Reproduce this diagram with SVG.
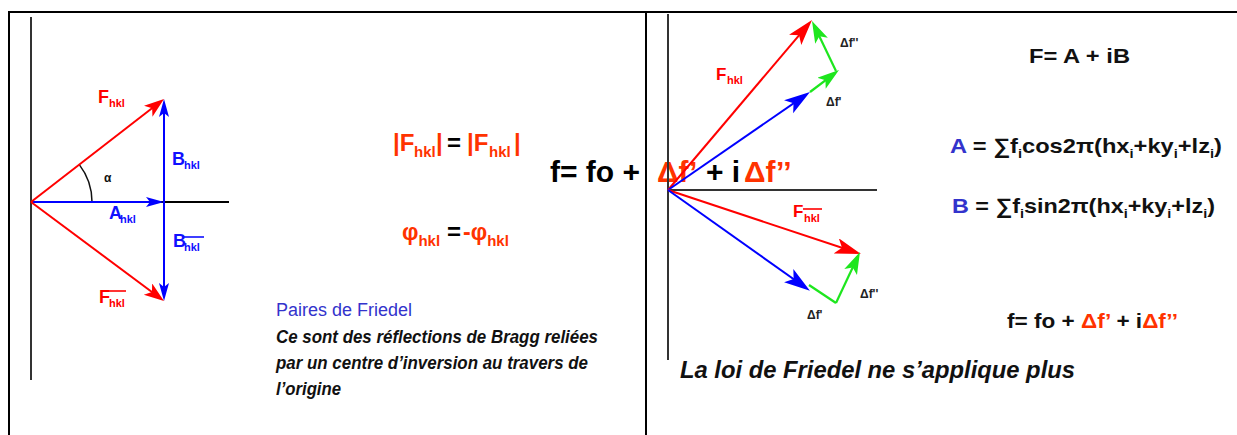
<svg xmlns="http://www.w3.org/2000/svg" width="1237" height="435" viewBox="0 0 1237 435">
<style>
text{font-family:"Liberation Sans",Arial,sans-serif}
.bd{font-weight:bold}
.bi{font-weight:bold;font-style:italic}
.ax{stroke:#333;stroke-width:2;fill:none}
.fr{stroke:#000;stroke-width:2;fill:none}
.r{stroke:#f00;stroke-width:2;fill:none}
.b{stroke:#00f;stroke-width:2;fill:none}
.g{stroke:#1ee61e;stroke-width:2.2;fill:none}
.red{fill:#f00}
.ora{fill:#ff3300}
.blu{fill:#1010ff}
.ind{fill:#3333cc}
.blk{fill:#111}
</style>
<defs>
<marker id="rL" markerUnits="userSpaceOnUse" markerWidth="21" markerHeight="15" refX="15" refY="7" orient="auto"><path d="M0,0 L20,7 L0,14 L5,7 z" fill="#f00"/></marker>
<marker id="bL" markerUnits="userSpaceOnUse" markerWidth="19" markerHeight="11" refX="13" refY="5" orient="auto"><path d="M0,0 L18,5 L0,10 L4,5 z" fill="#00f"/></marker>
<marker id="rR" markerUnits="userSpaceOnUse" markerWidth="27" markerHeight="17" refX="21" refY="8" orient="auto"><path d="M0,0 L26,8 L0,16 L6,8 z" fill="#f00"/></marker>
<marker id="bR" markerUnits="userSpaceOnUse" markerWidth="27" markerHeight="17" refX="21" refY="8" orient="auto"><path d="M0,0 L26,8 L0,16 L6,8 z" fill="#00f"/></marker>
<marker id="gR" markerUnits="userSpaceOnUse" markerWidth="23" markerHeight="15" refX="17" refY="7" orient="auto"><path d="M0,0 L22,7 L0,14 L5,7 z" fill="#1ee61e"/></marker>
</defs>
<rect width="1237" height="435" fill="#fff"/>

<!-- big formula (drawn under lines) -->
<g id="formula-main" class="bd" font-size="30">
<text x="550" y="182" fill="#000">f= fo +</text>
<text x="657" y="182" class="ora">Δf’</text>
<text x="706" y="182" fill="#000">+ i</text>
<text x="744" y="182" class="ora">Δf’’</text>
</g>

<!-- frame -->
<g id="frame">
<line class="fr" x1="9" y1="12" x2="1237" y2="12"/>
<line class="fr" x1="9" y1="11" x2="9" y2="435"/>
<line class="fr" x1="646" y1="12" x2="646" y2="435"/>
</g>

<!-- left diagram axes -->
<g id="left-axes">
<line class="ax" x1="31" y1="17" x2="31" y2="380"/>
<line x1="31" y1="202" x2="229" y2="202" stroke="#000" stroke-width="2"/>
<path d="M79.3,164.6 A61,61 0 0 1 92,202" stroke="#111" stroke-width="1.5" fill="none"/>
</g>

<!-- right diagram axes -->
<g id="right-axes">
<line class="ax" x1="668" y1="14" x2="668" y2="360"/>
<line class="ax" x1="668" y1="190" x2="877" y2="190"/>
</g>

<g id="connectors">
<line class="b" x1="31" y1="202" x2="159" y2="202" marker-end="url(#bL)"/>
<line class="b" x1="164" y1="202" x2="164" y2="104" marker-end="url(#bL)"/>
<line class="b" x1="164" y1="202" x2="164" y2="296" marker-end="url(#bL)"/>
<line class="r" x1="31" y1="202" x2="160.05" y2="102.06" marker-end="url(#rL)"/>
<line class="r" x1="31" y1="202" x2="159.99" y2="298.01" marker-end="url(#rL)"/>

<line class="r" x1="668" y1="190" x2="808.77" y2="23.81" marker-end="url(#rR)"/>
<line class="b" x1="668" y1="190" x2="805.88" y2="94.84" marker-end="url(#bR)"/>
<line class="g" x1="810" y1="92" x2="835.01" y2="73.02" marker-end="url(#gR)"/>
<line class="g" x1="836" y1="71" x2="814.16" y2="25.5" marker-end="url(#gR)"/>
<line class="r" x1="668" y1="190" x2="856.23" y2="252.5" marker-end="url(#rR)"/>
<line class="b" x1="668" y1="190" x2="805.84" y2="287.78" marker-end="url(#bR)"/>
<line class="g" x1="809" y1="285" x2="836" y2="303"/>
<line class="g" x1="836" y1="303" x2="857.87" y2="256.52" marker-end="url(#gR)"/>
</g>

<!-- left labels -->
<g id="label-F" class="bd red"><text x="98" y="103" font-size="18">F</text><text x="109" y="107" font-size="11">hkl</text></g>
<g id="label-B" class="bd blu"><text x="172" y="165" font-size="18">B</text><text x="184" y="169" font-size="11">hkl</text></g>
<g id="label-A" class="bd blu"><text x="109" y="219" font-size="18">A</text><text x="120" y="223" font-size="11">hkl</text></g>
<g id="label-Bbar" class="bd blu"><text x="173" y="247" font-size="18">B</text><text x="184" y="251" font-size="11">hkl</text><line x1="183" y1="237" x2="204" y2="237" stroke="#1010ff" stroke-width="1.6"/></g>
<g id="label-Fbar" class="bd red"><text x="99" y="303" font-size="18">F</text><text x="109" y="307" font-size="11">hkl</text><line x1="108" y1="291" x2="126" y2="291" stroke="#f00" stroke-width="1.6"/></g>
<text id="label-alpha" x="104" y="182" font-size="12" class="bd" fill="#111">α</text>

<!-- middle formulas -->
<g id="eq-modulus" class="bd" font-size="24">
<text x="393" y="151" class="ora">|F</text><text x="414" y="157" font-size="15" class="ora">hkl</text><text x="436" y="151" class="ora">|</text>
<text x="447" y="151" fill="#000">=</text>
<text x="467" y="151" class="ora">|F</text><text x="489" y="157" font-size="15" class="ora">hkl</text><text x="514" y="151" class="ora">|</text>
</g>
<g id="eq-phase" class="bd">
<text x="402" y="240" font-size="23" class="ora">φ<tspan font-size="15" dy="6">hkl</tspan></text>
<text x="447" y="240" font-size="24" fill="#000">=</text>
<text x="463" y="240" font-size="23" class="ora">-φ<tspan font-size="15" dy="6">hkl</tspan></text>
</g>

<g id="friedel-text">
<text x="276" y="316" font-size="18" class="ind" textLength="136" lengthAdjust="spacingAndGlyphs">Paires de Friedel</text>
<text x="276" y="343" font-size="18" class="bi blk" textLength="322" lengthAdjust="spacingAndGlyphs">Ce sont des réflections de Bragg reliées</text>
<text x="276" y="369" font-size="18" class="bi blk" textLength="312" lengthAdjust="spacingAndGlyphs">par un centre d’inversion au travers de</text>
<text x="276" y="395" font-size="18" class="bi blk" textLength="65" lengthAdjust="spacingAndGlyphs">l’origine</text>
</g>

<!-- right labels -->
<g id="label-Fr" class="bd red"><text x="716" y="80" font-size="17">F</text><text x="727" y="84" font-size="11">hkl</text></g>
<g id="label-Fbar-r" class="bd red"><text x="793" y="217" font-size="17">F</text><text x="804" y="222" font-size="11">hkl</text><line x1="803" y1="209" x2="822" y2="209" stroke="#f00" stroke-width="1.6"/></g>
<g id="small-labels" class="bd" font-size="12" fill="#222">
<text x="840" y="47">Δf''</text>
<text x="826" y="106">Δf'</text>
<text x="860" y="298">Δf''</text>
<text x="807" y="319">Δf'</text>
</g>

<text id="friedel-fails" x="680" y="378" font-size="24" class="bi blk" textLength="395" lengthAdjust="spacingAndGlyphs">La loi de Friedel ne s’applique plus</text>

<!-- right formulas -->
<text id="eq-F" x="1029" y="63" font-size="21" class="bd" fill="#111" textLength="101" lengthAdjust="spacingAndGlyphs">F= A + iB</text>
<text id="eq-A" x="950" y="153" font-size="21" class="bd" fill="#111" textLength="272" lengthAdjust="spacingAndGlyphs"><tspan class="ind">A</tspan> = ∑f<tspan font-size="13" dy="5">i</tspan><tspan dy="-5">cos2π(hx</tspan><tspan font-size="13" dy="5">i</tspan><tspan dy="-5">+ky</tspan><tspan font-size="13" dy="5">i</tspan><tspan dy="-5">+lz</tspan><tspan font-size="13" dy="5">i</tspan><tspan dy="-5">)</tspan></text>
<text id="eq-B" x="952" y="213" font-size="21" class="bd" fill="#111" textLength="263" lengthAdjust="spacingAndGlyphs"><tspan class="ind">B</tspan> = ∑f<tspan font-size="13" dy="5">i</tspan><tspan dy="-5">sin2π(hx</tspan><tspan font-size="13" dy="5">i</tspan><tspan dy="-5">+ky</tspan><tspan font-size="13" dy="5">i</tspan><tspan dy="-5">+lz</tspan><tspan font-size="13" dy="5">i</tspan><tspan dy="-5">)</tspan></text>
<text id="eq-f" x="1007" y="328" font-size="21" class="bd" fill="#111" textLength="171" lengthAdjust="spacingAndGlyphs">f= fo + <tspan class="ora">Δf’</tspan> + i<tspan class="ora">Δf’’</tspan></text>
</svg>
